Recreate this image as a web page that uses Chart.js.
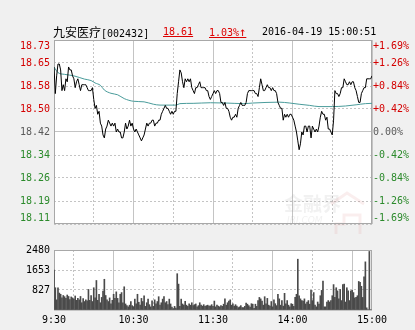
<!DOCTYPE html>
<html><head><meta charset="utf-8">
<script src="https://cdn.jsdelivr.net/npm/chart.js@4.4.0/dist/chart.umd.min.js"></script>
<style>
html,body{margin:0;padding:0;background:#f0f0f0;width:415px;height:330px;overflow:hidden;position:relative}
canvas{position:absolute;left:0}
#main{top:0}
#vol{top:240px}
.t{position:absolute;top:25px;line-height:14px;white-space:nowrap;z-index:2}
.mono{font-family:'DejaVu Sans Mono',monospace;font-size:10px}
</style></head><body>
<canvas id="main" width="415" height="240"></canvas>
<canvas id="vol" width="415" height="90"></canvas>
<div class="t" style="left:53px;font-family:'Noto Sans CJK SC';font-size:12px;color:#000">九安医疗<span class="mono">[002432]</span></div>
<div class="t mono" style="left:163px;color:#d00;text-decoration:underline">18.61</div>
<div class="t mono" style="left:209px;color:#d00;text-decoration:underline">1.03%<span style="font-size:12px">↑</span></div>
<div class="t mono" style="left:262px;color:#000">2016-04-19 15:00:51</div>
<script>
const prevClose = 18.42;
const timeLabels = ['9:30','10:30','11:30','14:00','15:00'];
const leftTicks = ['18.73','18.65','18.58','18.50','18.42','18.34','18.26','18.19','18.11'];
const rightTicks = ['+1.69%','+1.26%','+0.84%','+0.42%','0.00%','-0.42%','-0.84%','-1.26%','-1.69%'];
const volTicks = ['0','827','1653','2480'];
const volMax = 2480;
const pctRange = 1.69;

const prices = [
18.64,18.55,18.61,18.65,18.65,18.63,18.56,18.58,18.56,18.60,
18.59,18.64,18.63,18.63,18.61,18.60,18.57,18.59,18.60,18.58,
18.56,18.58,18.58,18.58,18.58,18.57,18.56,18.56,18.56,18.57,
18.53,18.50,18.51,18.48,18.49,18.45,18.44,18.41,18.40,18.43,
18.44,18.46,18.45,18.44,18.45,18.44,18.45,18.42,18.43,18.42,
18.42,18.40,18.40,18.42,18.45,18.43,18.44,18.46,18.44,18.45,
18.43,18.42,18.43,18.42,18.41,18.40,18.39,18.40,18.41,18.43,
18.45,18.44,18.45,18.45,18.46,18.46,18.44,18.45,18.45,18.46,
18.46,18.48,18.49,18.50,18.51,18.50,18.50,18.49,18.48,18.49,
18.48,18.49,18.49,18.55,18.59,18.63,18.62,18.59,18.57,18.60,
18.59,18.60,18.59,18.60,18.57,18.56,18.55,18.57,18.57,18.58,
18.59,18.57,18.57,18.57,18.57,18.56,18.56,18.54,18.53,18.54,
18.55,18.56,18.55,18.56,18.56,18.55,18.52,18.52,18.51,18.52,
18.50,18.50,18.49,18.47,18.46,18.47,18.47,18.48,18.47,18.50,
18.51,18.52,18.51,18.51,18.51,18.52,18.55,18.56,18.56,18.56,
18.56,18.56,18.55,18.55,18.54,18.57,18.60,18.58,18.56,18.56,
18.57,18.58,18.57,18.57,18.56,18.57,18.56,18.56,18.55,18.52,
18.51,18.50,18.50,18.46,18.48,18.47,18.48,18.47,18.48,18.48,
18.47,18.46,18.44,18.42,18.39,18.36,18.38,18.42,18.41,18.44,
18.44,18.42,18.44,18.44,18.40,18.44,18.43,18.42,18.43,18.42,
18.44,18.47,18.49,18.48,18.48,18.46,18.47,18.43,18.43,18.42,
18.41,18.46,18.56,18.55,18.55,18.54,18.55,18.57,18.57,18.60,
18.59,18.58,18.58,18.59,18.58,18.59,18.59,18.57,18.56,18.54,
18.52,18.52,18.55,18.56,18.57,18.57,18.60,18.60,18.60,18.60,
18.61];

const avgMinutes = [0,3,8,15,23,28,31,35,38,43,48,53,60,68,75,80,92,95,105,118,130,143,150,160,170,178,185,193,200,210,220,228,235,240];
const avgPrices = [18.640,18.621,18.615,18.610,18.599,18.594,18.586,18.578,18.562,18.551,18.546,18.533,18.524,18.522,18.514,18.511,18.511,18.516,18.517,18.519,18.518,18.516,18.518,18.520,18.521,18.518,18.514,18.510,18.506,18.506,18.508,18.512,18.516,18.517];

const volumes = [
1650,920,420,920,700,650,500,600,550,480,
620,560,430,540,500,450,580,400,480,420,
560,300,470,350,420,380,850,400,600,350,
920,500,1220,400,650,300,520,780,1270,600,
420,350,500,250,400,650,480,750,480,300,
650,720,300,960,250,180,130,200,350,180,
140,450,250,650,320,200,480,350,590,150,
300,450,220,130,380,150,420,250,350,550,
200,300,450,550,300,350,220,450,250,120,
60,150,80,1500,1070,150,450,250,200,360,
200,150,250,200,300,180,220,250,130,180,
300,200,160,220,150,180,200,160,170,220,
150,370,130,200,160,130,180,150,240,460,
200,300,370,420,200,260,160,220,160,100,
130,180,100,100,150,290,240,180,120,260,
240,70,240,150,390,520,460,370,200,550,
260,480,200,160,350,130,420,260,180,650,
460,200,390,160,690,260,390,200,130,260,
240,150,520,650,2100,590,460,390,370,460,
250,330,390,240,810,390,720,200,130,330,
240,590,810,1200,130,130,330,390,330,390,
590,1050,520,920,790,460,850,390,1050,1070,
330,920,790,390,790,810,720,500,520,590,
1180,1140,980,520,1370,1990,90,0,2420,0,
0];

const minutes = prices.map((_, i) => i);
const gridSteps = [0,30,60,90,120,150,180,210,240];
const yMin = prevClose * (1 - pctRange/100);
const yMax = prevClose * (1 + pctRange/100);
const yTickVals = leftTicks.map((_, i) => yMin + i * (yMax - yMin) / 8);

const GRID = '#c4c4c4';
const RED = '#d40000', GREEN = '#2b8a2b', GRAY = '#5a5a5a';
const FONT = {family: "'DejaVu Sans Mono', monospace", size: 10};

const bgBorder = {
  id: 'bgBorder',
  beforeDraw(chart) {
    const {ctx, chartArea: a} = chart;
    ctx.save(); ctx.fillStyle = '#fff';
    ctx.fillRect(a.left, a.top, a.right - a.left, a.bottom - a.top);
    ctx.restore();
  },
  beforeDatasetsDraw(chart, args, opts) {
    const {ctx, chartArea: a} = chart;
    if (opts.watermark) {
      ctx.save();
      ctx.fillStyle = 'rgba(160,160,160,0.15)';
      ctx.font = "bold 19px 'Noto Sans CJK SC'";
      ctx.fillText('金融界', 284, 211);
      ctx.font = "italic 9px 'DejaVu Sans'";
      ctx.fillText('JRJ.COM', 287, 223);
      ctx.strokeStyle = 'rgba(220,120,120,0.13)';
      ctx.lineWidth = 3;
      ctx.beginPath();
      ctx.moveTo(331, 204); ctx.lineTo(347, 193); ctx.lineTo(364, 204);
      ctx.moveTo(336, 234); ctx.lineTo(336, 224); ctx.lineTo(344, 224); ctx.lineTo(344, 215); ctx.lineTo(360, 215); ctx.lineTo(360, 234);
      ctx.stroke();
      ctx.restore();
    }
    ctx.save();
    ctx.strokeStyle = '#a8a8a8'; ctx.lineWidth = 1;
    ctx.strokeRect(Math.round(a.left) + 0.5, Math.round(a.top) + 0.5, Math.round(a.right - a.left) - 1, Math.round(a.bottom - a.top) - 1);
    ctx.restore();
  }
};

function xGrid() {
  return {
    grid: {color: GRID, drawTicks: false, lineWidth: 1},
    border: {display: false, dash: c => (c.index % 2 === 1 ? [2, 2] : [])}
  };
}

new Chart(document.getElementById('main'), {
  type: 'line',
  data: {
    datasets: [
      {data: minutes.map((m, i) => ({x: m, y: prices[i]})), borderColor: '#000', borderWidth: 1, pointRadius: 0, tension: 0},
      {data: avgMinutes.map((m, i) => ({x: m, y: avgPrices[i]})), borderColor: '#4a9c9b', borderWidth: 1, pointRadius: 0, cubicInterpolationMode: 'monotone'}
    ]
  },
  options: {
    responsive: false, animation: false, devicePixelRatio: 1,
    layout: {padding: {top: 40, bottom: 5.5, left: 0, right: 0}},
    plugins: {legend: {display: false}, tooltip: {enabled: false}, bgBorder: {watermark: true}},
    scales: {
      x: Object.assign({type: 'linear', min: 0, max: 240, offset: false,
        ticks: {display: false},
        afterBuildTicks: s => { s.ticks = gridSteps.map(v => ({value: v})); },
        afterFit: s => { s.height = 0; }
      }, xGrid()),
      y: {
        position: 'left', min: yMin, max: yMax,
        afterBuildTicks: s => { s.ticks = yTickVals.map(v => ({value: v})); },
        afterFit: s => { s.width = 54; },
        grid: {color: GRID, drawTicks: false},
        border: {display: false, dash: c => (c.index === 4 ? [] : [2, 2])},
        ticks: {
          font: FONT, padding: 4, autoSkip: false,
          color: c => c.index > 4 ? RED : (c.index < 4 ? GREEN : GRAY),
          callback: (v, i) => {
            const l = leftTicks[8 - i];
            return i === 8 ? ['', l] : (i === 0 ? [l, ''] : l);
          }
        }
      },
      y1: {
        position: 'right', min: yMin, max: yMax,
        afterBuildTicks: s => { s.ticks = yTickVals.map(v => ({value: v})); },
        afterFit: s => { s.width = 43; },
        grid: {display: false, drawTicks: false},
        border: {display: false},
        ticks: {
          font: FONT, padding: 1, autoSkip: false,
          color: c => c.index > 4 ? RED : (c.index < 4 ? GREEN : GRAY),
          callback: (v, i) => {
            const l = rightTicks[8 - i];
            return i === 8 ? ['', l] : (i === 0 ? [l, ''] : l);
          }
        }
      }
    }
  },
  plugins: [bgBorder]
});

new Chart(document.getElementById('vol'), {
  type: 'bar',
  data: {
    datasets: [{data: minutes.map((m, i) => ({x: m, y: volumes[i]})), backgroundColor: '#4a4a4a', barThickness: 1, borderWidth: 0}]
  },
  options: {
    responsive: false, animation: false, devicePixelRatio: 1,
    layout: {padding: {top: 7, right: 43, left: 0, bottom: 0}},
    plugins: {legend: {display: false}, tooltip: {enabled: false}, bgBorder: {watermark: false}},
    scales: {
      x: Object.assign({type: 'linear', min: 0, max: 240, offset: false,
        afterBuildTicks: s => { s.ticks = gridSteps.map(v => ({value: v})); },
        afterFit: s => { s.height = 20; },
        ticks: {font: FONT, color: '#000', padding: 4, autoSkip: false, maxRotation: 0,
          callback: v => (v % 60 === 0 ? timeLabels[v / 60] : '')}
      }, xGrid()),
      y: {
        min: 0, max: volMax,
        afterBuildTicks: s => { s.ticks = volTicks.map(v => ({value: Number(v)})); },
        afterFit: s => { s.width = 54; },
        grid: {color: GRID, drawTicks: false},
        border: {display: false, dash: c => (c.index === 1 || c.index === 2 ? [2, 2] : [])},
        ticks: {font: FONT, color: '#000', padding: 4, autoSkip: false,
          callback: (v, i) => (i === 0 ? '' : volTicks[i])}
      }
    }
  },
  plugins: [bgBorder]
});
</script>
</body></html>
